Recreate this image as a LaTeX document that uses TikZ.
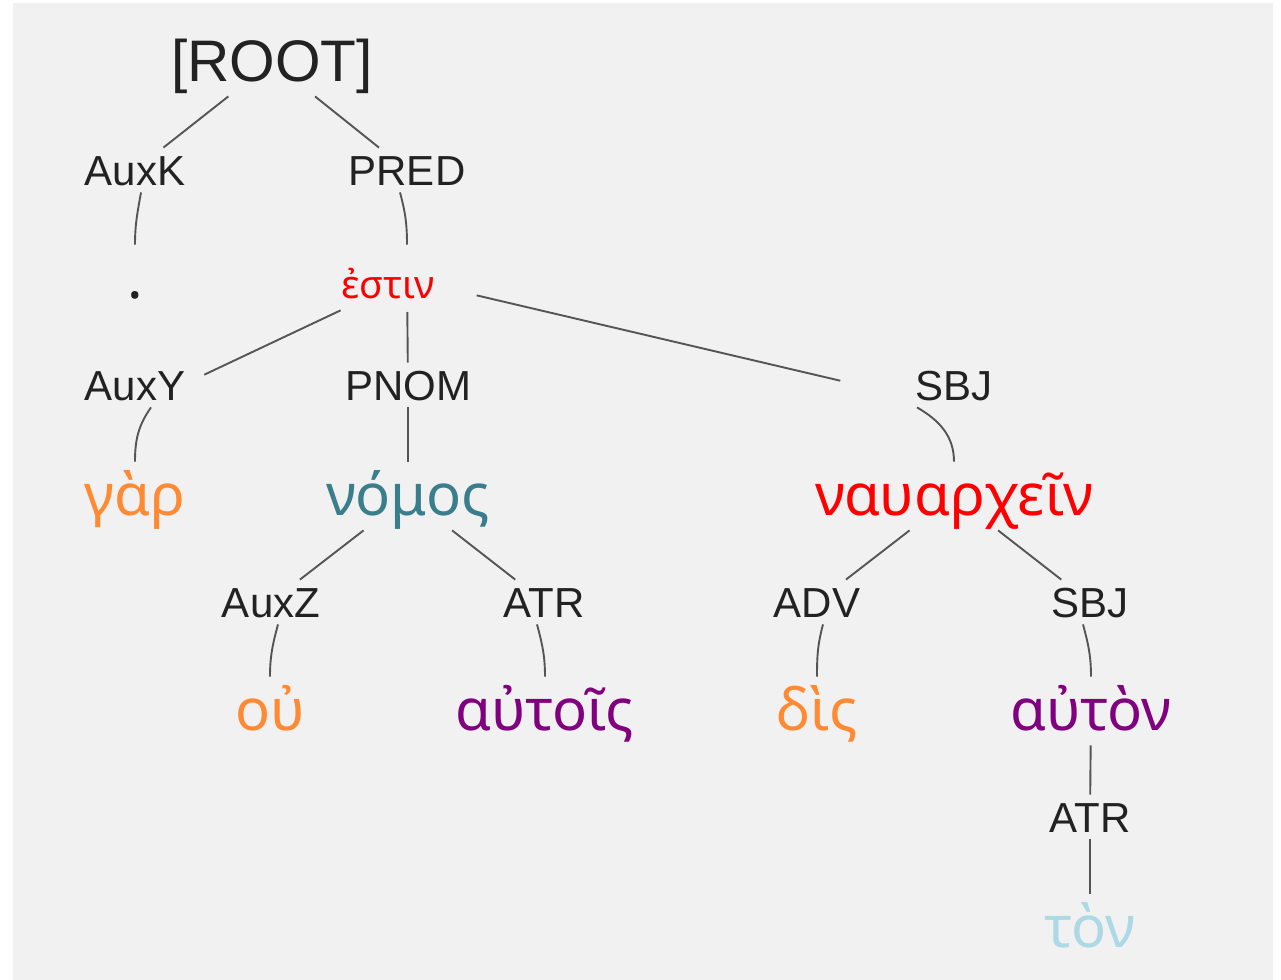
\documentclass[tikz,border=0pt]{standalone}
\usepackage{fontspec}
\setmainfont{Liberation Sans}
\newfontfamily\greekfont[Script=Greek]{Noto Sans}
\usepackage{tikz}
\definecolor{treebg}{HTML}{F1F1F1}
\definecolor{treeline}{HTML}{555555}
\definecolor{labelink}{HTML}{222222}
\definecolor{wordorange}{HTML}{FF8A33}
\definecolor{wordteal}{HTML}{3A7D8C}
\definecolor{wordpurple}{HTML}{800080}
\definecolor{wordblue}{HTML}{ADD8E6}

\begin{document}
\begin{tikzpicture}[x=0.5pt,y=-0.5pt,
	lab/.style={anchor=base,text=labelink,font=\fontsize{21}{21}\selectfont,text height=15pt,text depth=0pt,inner xsep=2pt,inner ysep=3.5pt},
	word/.style={anchor=base,font=\greekfont\fontsize{29}{29}\selectfont,text height=26.5pt,text depth=7.5pt,inner sep=0pt},
	link/.style={draw=treeline,line width=0.95pt}]
			\fill [white] (0,0) rectangle (1281,980);
			\fill [treebg] (13,3) rectangle (1273,980);
			% words and relations
			\node [word,text=labelink,font=\fontsize{29.3}{30}\selectfont] (root) at (272,81) {[ROOT]};
			\node [lab] (auxk) at (135,185) {AuxK};
			\node [lab] (pred) at (407,185) {PRED};
			\node [word,text=labelink] (dot) at (135,298) {.};
			\node [word,text=red,font=\greekfont\fontsize{19.5}{20}\selectfont] (estin) at (388,298) {ἐστιν};
			\coordinate (estinhub) at (estin.center -| pred.center);
			\node [lab] (auxy) at (135,400) {AuxY};
			\node [lab] (pnom) at (408,400) {PNOM};
			\node [lab] (sbja) at (954,400) {SBJ};
			\node [word,text=wordorange] (gar) at (135,515) {γὰρ};
			\node [word,text=wordteal] (nomos) at (408,515) {νόμος};
			\node [word,text=red] (nauarchein) at (954,515) {ναυαρχεῖν};
			\node [lab] (auxz) at (271,617) {AuxZ};
			\node [lab] (atra) at (544,617) {ATR};
			\node [lab] (adv) at (817,617) {ADV};
			\node [lab] (sbjb) at (1090,617) {SBJ};
			\node [word,text=wordorange] (ou) at (270,730) {οὐ};
			\node [word,text=wordpurple] (autois) at (545,730) {αὐτοῖς};
			\node [word,text=wordorange] (dis) at (817,730) {δὶς};
			\node [word,text=wordpurple] (auton) at (1091,730) {αὐτὸν};
			\node [lab] (atrb) at (1090,832) {ATR};
			\node [word,text=wordblue] (ton) at (1090,947) {τὸν};
			% links
			\draw [link] (root) -- (auxk);
			\draw [link] (root) -- (pred);
			\draw [link] ([xshift=3pt]auxk.south) to[out=-100,in=90] (dot.north);
			\draw [link] ([xshift=-3.5pt]pred.south) to[out=-75,in=90] (estinhub |- estin.north);
			\draw [link,shorten <=36.7pt,shorten >=38.3pt] (estinhub) -- (auxy.south);
			\draw [link,shorten <=16.5pt] (estinhub) -- (pnom);
			\draw [link,shorten <=35.8pt,shorten >=58.4pt] (estinhub) -- (sbja.south);
			\draw [link] ([xshift=8pt]auxy.south) to[out=-125,in=90] (gar.north);
			\draw [link] (pnom) -- (nomos);
			\draw [link] ([xshift=-18.5pt]sbja.south) to[out=-30,in=90] (nauarchein.north);
			\draw [link] (nomos) -- (auxz);
			\draw [link] (nomos) -- (atra);
			\draw [link] ([xshift=3.5pt]auxz.south) to[out=-105,in=90] (ou.north);
			\draw [link] ([xshift=-3.5pt]atra.south) to[out=-75,in=90] (autois.north);
			\draw [link] (nauarchein) -- (adv);
			\draw [link] (nauarchein) -- (sbjb);
			\draw [link] ([xshift=3pt]adv.south) to[out=-105,in=90] (dis.north);
			\draw [link] ([xshift=-3.5pt]sbjb.south) to[out=-75,in=90] (auton.north);
			\draw [link] (auton) -- (atrb);
			\draw [link] (atrb) -- (ton);
\end{tikzpicture}
\end{document}
